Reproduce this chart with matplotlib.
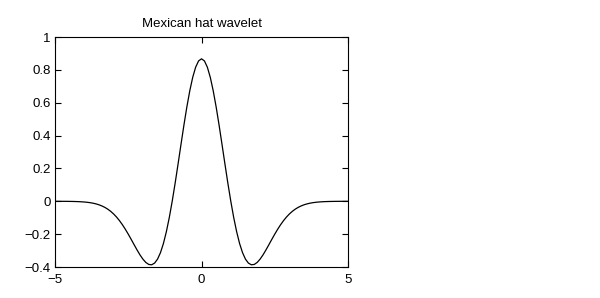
import numpy as np
import matplotlib.pyplot as plt

plt.rcParams['font.family'] = ['Liberation Sans', 'DejaVu Sans']

# values, t from -5 to 5 in steps of 0.1
t = np.linspace(-5, 5, 101)
psi = [-0.0001, -0.0001, -0.0002, -0.0003, -0.0004, -0.0007, -0.0010, -0.0015,
       -0.0021, -0.0031, -0.0044, -0.0061, -0.0085, -0.0117, -0.0159, -0.0213,
       -0.0283, -0.0370, -0.0479, -0.0611, -0.0771, -0.0959, -0.1177, -0.1425,
       -0.1701, -0.2001, -0.2317, -0.2642, -0.2961, -0.3261, -0.3521, -0.3723,
       -0.3845, -0.3865, -0.3761, -0.3520, -0.3125, -0.2571, -0.1858, -0.0995,
       0.0, 0.1099, 0.2267, 0.3462, 0.4637, 0.5741, 0.6725, 0.7545, 0.8161,
       0.8544, 0.8673, 0.8544, 0.8161, 0.7545, 0.6725, 0.5741, 0.4637, 0.3462,
       0.2267, 0.1099, 0.0, -0.0995, -0.1858, -0.2571, -0.3125, -0.3520,
       -0.3761, -0.3865, -0.3845, -0.3723, -0.3521, -0.3261, -0.2961, -0.2642,
       -0.2317, -0.2001, -0.1701, -0.1425, -0.1177, -0.0959, -0.0771, -0.0611,
       -0.0479, -0.0370, -0.0283, -0.0213, -0.0159, -0.0117, -0.0085, -0.0061,
       -0.0044, -0.0031, -0.0021, -0.0015, -0.0010, -0.0007, -0.0004, -0.0003,
       -0.0002, -0.0001, -0.0001]

xticks = [-5, 0, 5]
yticks = [-0.4, -0.2, 0, 0.2, 0.4, 0.6, 0.8, 1]
ylabels = ['\u22120.4', '\u22120.2', '0', '0.2', '0.4', '0.6', '0.8', '1']
xlabels = ['\u22125', '0', '5']

fig = plt.figure(figsize=(6, 2.98), dpi=100)
ax = fig.add_axes([55/600, 1 - 267/298, 293/600, 230/298])
ax.plot(t, psi, color='black', lw=0.9)
ax.set_xlim(-5, 5)
ax.set_ylim(-0.4, 1)
ax.set_xticks(xticks)
ax.set_xticklabels(xlabels)
ax.set_yticks(yticks)
ax.set_yticklabels(ylabels)
ax.tick_params(direction='in', top=True, right=True, length=4, width=0.8,
               labelsize=9.5, pad=3)
ax.tick_params(axis='x', pad=5)
for s in ax.spines.values():
    s.set_linewidth(0.8)
ax.set_title('Mexican hat wavelet', fontsize=9.5, pad=7)

fig.savefig('out.png', dpi=100)
